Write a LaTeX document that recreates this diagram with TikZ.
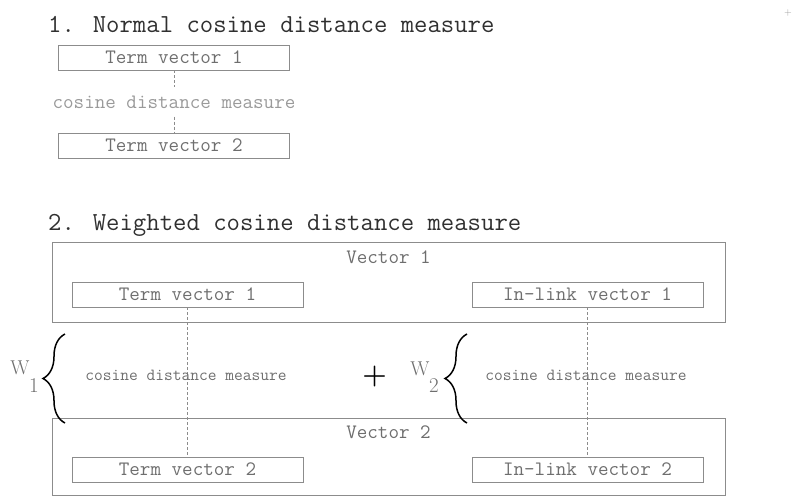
\documentclass[tikz,border=0pt]{standalone}
\usepackage{fontspec}
\usetikzlibrary{decorations.pathreplacing}
\definecolor{linegray}{HTML}{8C8C8C}
\definecolor{textgray}{HTML}{6E6E6E}
\definecolor{lightgray}{HTML}{9A9A9A}
\definecolor{titlegray}{HTML}{303030}
\tikzset{
  titletext/.style={anchor=base west,inner sep=0pt,text=titlegray,font=\ttfamily\fontsize{26}{28}\selectfont},
  vecbox/.style={draw=linegray,line width=0.9pt,minimum width=231pt,minimum height=25pt,inner sep=0pt,
    text=textgray,font=\ttfamily\fontsize{20.5}{22}\selectfont},
  outerbox/.style={draw=linegray,line width=0.9pt},
  measure/.style={text=textgray,font=\ttfamily\fontsize{17}{19}\selectfont},
  link/.style={draw=linegray,line width=0.8pt,dash pattern=on 3pt off 2pt},
  weight/.style={text=textgray,inner sep=0pt,font=\rmfamily\fontsize{20}{22}\selectfont},
  weightsub/.style={text=textgray,inner sep=0pt,font=\rmfamily\fontsize{21}{22}\selectfont},
  curly/.style={draw=black,line width=1.5pt,decorate,decoration={brace,amplitude=22pt}}
}
\begin{document}
\begin{tikzpicture}[x=1pt,y=-1pt]
  \useasboundingbox (0,0) rectangle (794,496);
  \node[text=lightgray,font=\fontsize{10}{10}\selectfont] (corner) at (788,13) {+};
  % 1. normal measure
  \node[titletext] (title1) at (48,32) {1. Normal cosine distance measure};
  \node[vecbox] (tv1) at (174,57.5) {Term vector 1};
  \node[vecbox] (tv2) at (174,145.5) {Term vector 2};
  \node[text=lightgray,font=\ttfamily\fontsize{20.5}{22}\selectfont,inner ysep=8pt] (cdm) at (174,102) {cosine distance measure};
  \draw[link] (tv1.south) -- (cdm.north);
  \draw[link] (cdm.south) -- (tv2.north);
  % 2. weighted measure
  \node[titletext] (title2) at (48,230) {2. Weighted cosine distance measure};
  \draw[outerbox] (52,242) rectangle (725,322);
  \draw[outerbox] (52,418) rectangle (725,495);
  \node[text=textgray,font=\ttfamily\fontsize{20.5}{22}\selectfont] (vec1) at (388.5,257) {Vector 1};
  \node[text=textgray,font=\ttfamily\fontsize{20.5}{22}\selectfont] (vec2) at (388.5,432) {Vector 2};
  \node[vecbox] (tva) at (187.5,294.5) {Term vector 1};
  \node[vecbox] (tvb) at (187.5,469.5) {Term vector 2};
  \node[vecbox] (ila) at (587.5,294.5) {In-link vector 1};
  \node[vecbox] (ilb) at (587.5,469.5) {In-link vector 2};
  \draw[link] (tva.south) -- (tvb.north);
  \draw[link] (ila.south) -- (ilb.north);
  \node[measure] (cdm1) at (186,375) {cosine distance measure};
  \node[measure] (cdm2) at (586,375) {cosine distance measure};
  % weights
  \draw[curly] (65,423) -- (65,334);
  \draw[curly] (467,423) -- (467,334);
  \node[weight] (w1) at (20,368) {W};
  \node[weightsub] (s1) at (34,386) {1};
  \node[weight] (w2) at (420,369) {W};
  \node[weightsub] (s2) at (434,386) {2};
  \node[font=\bfseries\fontsize{28}{28}\selectfont,inner sep=0pt] (plus) at (374.5,376.5) {+};
\end{tikzpicture}
\end{document}
